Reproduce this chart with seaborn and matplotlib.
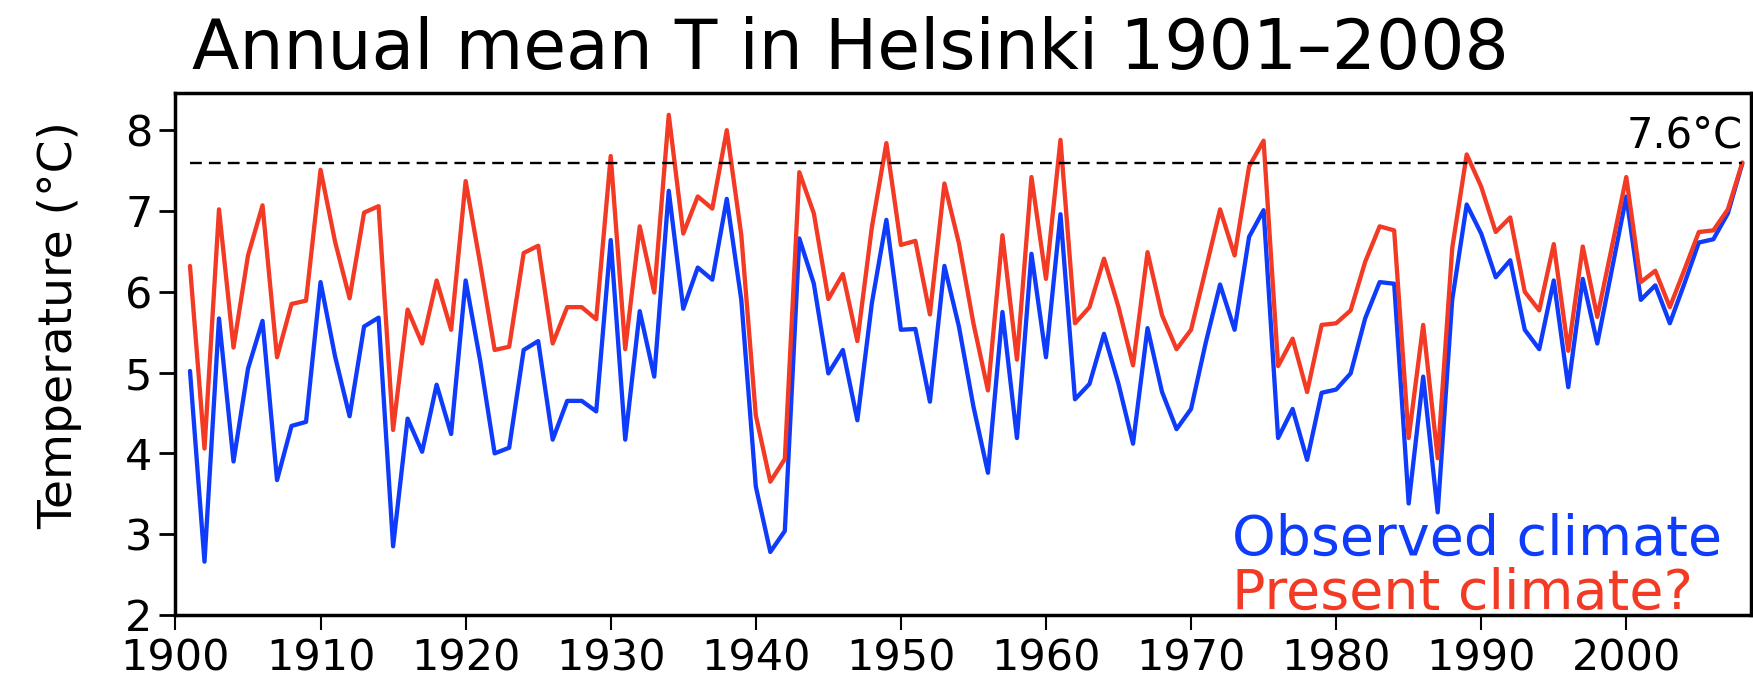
import numpy as np
import pandas as pd
import matplotlib
matplotlib.use("Agg")
import matplotlib.pyplot as plt
import seaborn as sns

# Annual mean temperature, Helsinki
years = list(range(1901, 2009))
observed = [5.02, 2.66, 5.67, 3.90, 5.05, 5.64, 3.67, 4.34, 4.39, 6.12,
            5.20, 4.46, 5.57, 5.68, 2.85, 4.43, 4.02, 4.85, 4.24, 6.14,
            5.15, 4.00, 4.07, 5.28, 5.39, 4.17, 4.65, 4.65, 4.52, 6.64,
            4.17, 5.76, 4.95, 7.25, 5.79, 6.30, 6.15, 7.15, 5.90, 3.59,
            2.78, 3.04, 6.66, 6.10, 4.99, 5.28, 4.41, 5.86, 6.89, 5.53,
            5.54, 4.64, 6.32, 5.57, 4.58, 3.76, 5.75, 4.19, 6.47, 5.19,
            6.96, 4.67, 4.86, 5.48, 4.86, 4.12, 5.55, 4.76, 4.30, 4.55,
            5.36, 6.09, 5.53, 6.68, 7.01, 4.19, 4.55, 3.92, 4.75, 4.79,
            4.99, 5.67, 6.12, 6.10, 3.38, 4.95, 3.27, 5.90, 7.08, 6.72,
            6.18, 6.39, 5.53, 5.29, 6.14, 4.82, 6.16, 5.36, 6.27, 7.18,
            5.90, 6.08, 5.61, 6.10, 6.61, 6.65, 6.97, 7.59]
present = [6.32, 4.06, 7.02, 5.31, 6.45, 7.07, 5.19, 5.85, 5.89, 7.51,
           6.62, 5.92, 6.98, 7.06, 4.29, 5.78, 5.36, 6.14, 5.53, 7.37,
           6.35, 5.28, 5.32, 6.48, 6.57, 5.36, 5.81, 5.81, 5.66, 7.68,
           5.29, 6.81, 5.99, 8.19, 6.72, 7.18, 7.03, 8.00, 6.70, 4.47,
           3.65, 3.93, 7.48, 6.97, 5.91, 6.22, 5.39, 6.80, 7.84, 6.58,
           6.63, 5.72, 7.34, 6.60, 5.61, 4.78, 6.70, 5.16, 7.42, 6.16,
           7.88, 5.61, 5.81, 6.41, 5.81, 5.09, 6.49, 5.71, 5.29, 5.53,
           6.27, 7.02, 6.45, 7.55, 7.87, 5.08, 5.42, 4.76, 5.59, 5.61,
           5.77, 6.37, 6.81, 6.76, 4.19, 5.59, 3.94, 6.54, 7.70, 7.30,
           6.74, 6.92, 6.00, 5.77, 6.59, 5.27, 6.56, 5.69, 6.55, 7.42,
           6.12, 6.26, 5.81, 6.27, 6.74, 6.76, 7.02, 7.60]
ref_level = 7.6
xticks = list(range(1900, 2001, 10))
yticks = [2, 3, 4, 5, 6, 7, 8]

df = pd.DataFrame({"year": years, "Observed": observed, "Present": present})
long = df.melt(id_vars="year", var_name="series", value_name="temp")

sns.set_theme(style="ticks")
plt.rcParams["font.family"] = ["DejaVu Sans"]

blue = "#0f3cfa"
red = "#f23a24"

fig = plt.figure(figsize=(17.53, 6.8), dpi=100)
ax = fig.add_axes([0.1001, 0.0956, 0.8988, 0.7676])

sns.lineplot(data=long, x="year", y="temp", hue="series",
             hue_order=["Observed", "Present"],
             palette={"Observed": blue, "Present": red},
             linewidth=3.1, legend=False, ax=ax)

# reference level
ax.plot([1901, 2008], [ref_level, ref_level], color="black", lw=1.7,
        dashes=(5, 3))
ax.text(2008, ref_level + 0.18, "7.6°C", ha="right", va="baseline",
        fontsize=30, color="black")

ax.set_xlim(1900, 2008.6)
ax.set_ylim(2, 8.46)
ax.set_xticks(xticks)
ax.set_yticks(yticks)
ax.set_xlabel("")
ax.set_ylabel("")
ax.tick_params(axis="y", direction="out", length=11.5, width=2,
               labelsize=31, pad=5, color="black", labelcolor="black")
ax.tick_params(axis="x", direction="out", length=11, width=1.5,
               labelsize=31, pad=5, color="black", labelcolor="black")
for s in ax.spines.values():
    s.set_linewidth(2.5)
    s.set_color("black")

ax.text(0.6706, 0.115, "Observed climate", transform=ax.transAxes,
        ha="left", va="baseline", fontsize=40, color=blue)
ax.text(0.6706, 0.0115, "Present climate?", transform=ax.transAxes,
        ha="left", va="baseline", fontsize=40, color=red)

fig.text(0.1095, 0.8985, "Annual mean T in Helsinki 1901\u20132008",
         ha="left", va="baseline", fontsize=50, color="black")
fig.text(0.034, 0.522, "Temperature (°C)", rotation=90, ha="center",
         va="center", fontsize=34, color="black")

fig.savefig("out.png", dpi=100, facecolor="white")
